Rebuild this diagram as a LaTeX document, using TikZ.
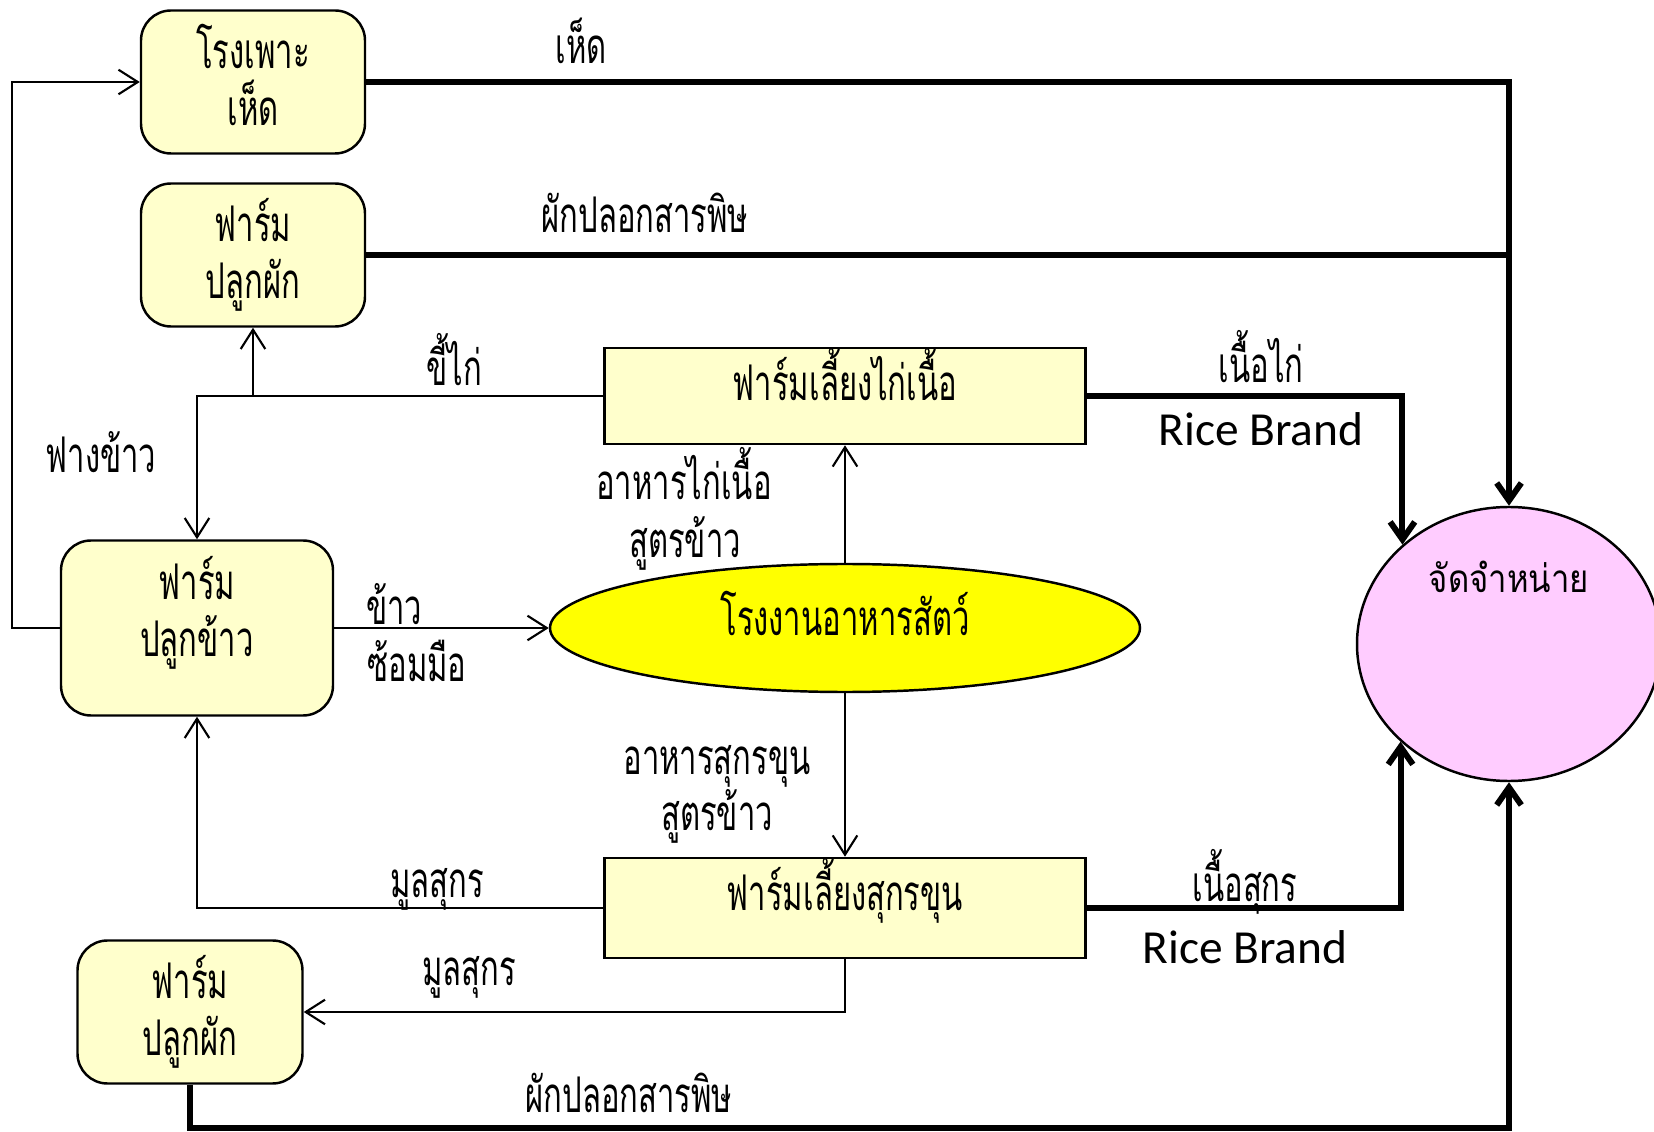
\documentclass[tikz,border=0pt]{standalone}
\usepackage{fontspec}
\usepackage{tikz}
\usetikzlibrary{arrows.meta,shapes.geometric}
\newfontfamily\thaifont[Script=Thai,FakeStretch=0.63]{Loma}
\newfontfamily\thaiwide[Script=Thai,FakeStretch=0.85]{Loma}
\newfontfamily\brandfont{Carlito}
\definecolor{boxyellow}{RGB}{255,255,204}
\definecolor{feedyellow}{RGB}{255,255,0}
\definecolor{sellpink}{RGB}{255,204,255}

\begin{document}
\begin{tikzpicture}[
    thaitext/.style={font=\thaifont\fontsize{14}{16.2}\selectfont},
    farm/.style={thaitext, draw, line width=0.7pt, fill=boxyellow, rounded corners=0.3cm,
        minimum width=2.24cm, minimum height=1.43cm, align=center, inner sep=0pt},
    pen/.style={thaitext, draw, line width=0.7pt, fill=boxyellow,
        minimum width=4.81cm, minimum height=0.95cm, inner sep=0pt},
    lbl/.style={thaitext, inner sep=0pt, text height=0.38cm, text depth=0.04cm},
    brand/.style={font=\brandfont\fontsize{13.5}{16}\selectfont, inner sep=0pt},
    thin/.style={line width=0.6pt, -{Straight Barb[length=5.5pt,width=7pt]}},
    thickline/.style={line width=1.7pt},
    thick arrow/.style={line width=1.7pt, -{Straight Barb[length=5pt,width=7pt]}}
]
\useasboundingbox (0,0) rectangle (16.54,11.31);

% boxes
\node[farm, text depth=0.14cm] (mush) at (2.53,10.49) {โรงเพาะ\\เห็ด};
\node[farm] (vegtop) at (2.53,8.76) {ฟาร์ม\\ปลูกผัก};
\node[farm, minimum width=2.72cm, minimum height=1.75cm, text depth=0.44cm] (rice) at (1.97,5.03) {ฟาร์ม\\ปลูกข้าว};
\node[farm, minimum width=2.25cm] (vegbot) at (1.90,1.19) {ฟาร์ม\\ปลูกผัก};
\node[pen, text depth=0.44cm] (chicken) at (8.45,7.35) {ฟาร์มเลี้ยงไก่เนื้อ};
\node[pen, minimum height=0.96cm, text depth=0.48cm] (pig) at (8.45,2.23) {ฟาร์มเลี้ยงสุกรขุน};
\node[thaitext, ellipse, draw, line width=0.7pt, fill=feedyellow, inner sep=0pt,
    minimum width=5.90cm, minimum height=1.28cm, text depth=0.3cm] (feed) at (8.45,5.03) {โรงงานอาหารสัตว์};
\node[ellipse, draw, line width=0.7pt, fill=sellpink, inner sep=0pt,
    minimum width=3.04cm, minimum height=2.74cm, font=\thaiwide\fontsize{11}{13}\selectfont,
    text height=0.25cm, text depth=1.28cm] (dist) at (15.09,4.87) {จัดจำหน่าย};

% thick flows to distribution
\draw[thick arrow] (mush.east) -| (dist.north);
\draw[thickline] (vegtop.east) -- (vegtop.east -| dist.north);
\draw[thick arrow] (chicken.east) -| (dist.137.7);
\draw[thick arrow] (pig.east) -| (dist.222.3);
\draw[thick arrow] (vegbot.south) -- ++(0,-0.435) -| (dist.south);

% thin flows
\draw[thin] (rice.west) -- ++(-0.48,0) |- (mush.west);
\draw[thin] (chicken.west) -| (rice.north);
\draw[thin] (chicken.west -| vegtop.south) -- (vegtop.south);
\draw[thin] (rice.east) -- (feed.west);
\draw[thin] (feed.north) -- (chicken.south);
\draw[thin] (feed.south) -- (pig.north);
\draw[thin] (pig.west) -| (rice.south);
\draw[thin] (pig.south) |- (vegbot.east);

% labels
\node[lbl] (lmush) at (5.81,10.84) {เห็ด};
\node[lbl] (lvegtop) at (6.45,9.15) {ผักปลอกสารพิษ};
\node[lbl] (lmanure) at (4.54,7.62) {ขี้ไก่};
\node[lbl] (lstraw) at (1.01,6.75) {ฟางข้าว};
\node[lbl] (lchick) at (12.61,7.65) {เนื้อไก่};
\node[brand] (bchick) at (12.61,7.02) {Rice Brand};
\node[lbl] (lcfeed) at (6.84,6.48) {อาหารไก่เนื้อ};
\node[lbl] (lcrice) at (6.85,5.90) {สูตรข้าว};
\node[lbl] (lrice) at (3.94,5.24) {ข้าว};
\node[lbl] (lmill) at (4.17,4.67) {ซ้อมมือ};
\node[lbl] (lpfeed) at (7.17,3.74) {อาหารสุกรขุน};
\node[lbl] (lprice) at (7.17,3.18) {สูตรข้าว};
\node[lbl] (ldung) at (4.37,2.51) {มูลสุกร};
\node[lbl] (lpork) at (12.45,2.47) {เนื้อสุกร};
\node[brand] (bpork) at (12.45,1.84) {Rice Brand};
\node[lbl] (ldung2) at (4.69,1.63) {มูลสุกร};
\node[lbl] (lvegbot) at (6.29,0.36) {ผักปลอกสารพิษ};
\end{tikzpicture}
\end{document}
